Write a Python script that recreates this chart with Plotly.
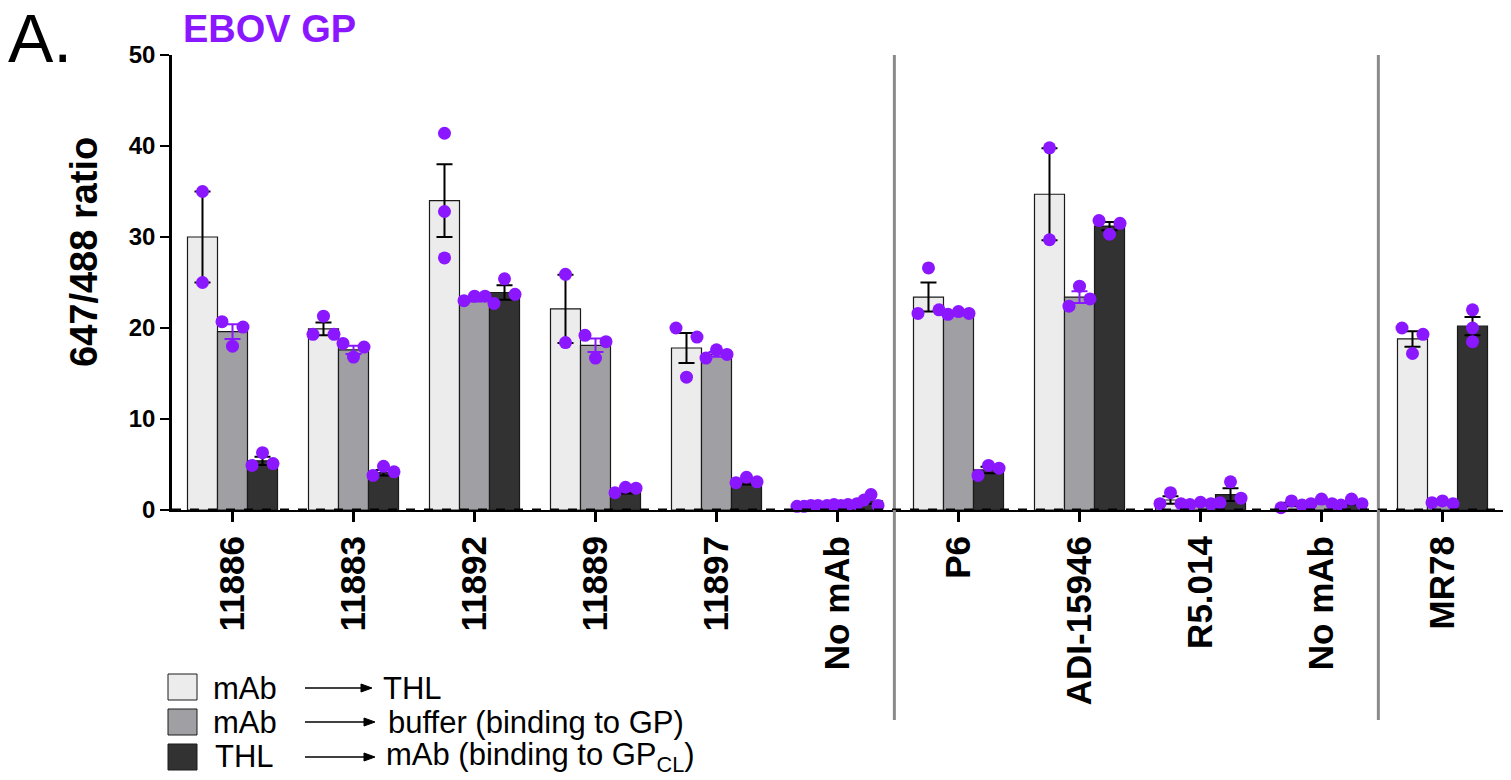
import plotly.graph_objects as go

# ---------------- data ----------------
categories = ["11886", "11883", "11892", "11889", "11897", "No mAb",
              "P6", "ADI-15946", "R5.014", "No mAb", "MR78"]

series_names = ["mAb → THL", "mAb → buffer (binding to GP)", "THL → mAb (binding to GPCL)"]

thl_mean = [30.0, 19.9, 34.0, 22.1, 17.8, 0.45, 23.4, 34.7, 1.1, 0.6, 18.8]
thl_sem = [5.0, 0.7, 4.0, 3.75, 1.65, 0.05, 1.6, 5.05, 0.4, 0.2, 0.85]
thl_points = [[35.0, 25.0], [19.3, 21.3, 19.3], [41.4, 32.8, 27.7], [25.9, 18.4],
              [20.0, 14.6, 19.0], [0.4, 0.4, 0.5, 0.5], [21.6, 26.6, 22.0],
              [39.8, 29.7], [0.7, 1.9, 0.7], [0.25, 1.0, 0.55], [20.0, 17.2, 19.3]]

buffer_mean = [19.6, 17.6, 23.1, 18.1, 17.1, 0.55, 21.6, 23.4, 0.7, 0.85, 0.85]
buffer_sem = [0.8, 0.45, 0.2, 0.75, 0.25, 0.03, 0.1, 0.65, 0.08, 0.15, 0.1]
buffer_points = [[20.7, 18.0, 20.1], [18.3, 16.8, 17.9], [23.0, 23.5, 23.5],
                 [19.2, 16.7, 18.5], [16.7, 17.6, 17.1], [0.5, 0.6, 0.5, 0.6],
                 [21.5, 21.8, 21.6], [22.4, 24.6, 23.2], [0.6, 0.85, 0.7],
                 [0.7, 1.2, 0.7], [0.8, 1.0, 0.7]]

cl_mean = [5.4, 4.1, 23.9, 2.0, 3.0, 1.0, 4.4, 31.2, 1.7, 0.8, 20.2]
cl_sem = [0.45, 0.3, 0.8, 0.2, 0.2, 0.3, 0.35, 0.45, 0.7, 0.2, 1.0]
cl_points = [[4.9, 6.3, 5.1], [3.8, 4.8, 4.2], [22.7, 25.4, 23.7], [1.9, 2.5, 2.4],
             [3.0, 3.6, 3.1], [0.7, 1.1, 1.7, 0.5], [3.8, 4.9, 4.6],
             [31.8, 30.3, 31.5], [0.8, 3.1, 1.3], [0.55, 1.2, 0.7], [22.0, 20.0, 18.5]]

y_ticks = [0, 10, 20, 30, 40, 50]

# ---------------- style / geometry ----------------
W, H = 1511, 780
L, R, T, B = 172, 8, 55, 270
PW = W - L - R
PH = H - T - B
PURPLE = "#8A17FF"
FONT = "Arial, 'Liberation Sans', Helvetica, sans-serif"
BAR_W = 0.248
PX_PER_X = PW / 11.0
PX_PER_Y = PH / 50.0
MARK = 13


def px2x(px):
    return (px - L) / PW


def px2y(py):
    return (H - B - py) / PH


def spread(vals):
    n = len(vals)
    collide = any(abs(a - b) * PX_PER_Y < MARK
                  for i, a in enumerate(vals) for b in vals[i + 1:])
    if n == 1 or not collide:
        return [0.0] * n
    span = 21.0
    step = span / (n - 1)
    return [(-span / 2 + k * step) / PX_PER_X for k in range(n)]


fig = go.Figure()

series = [
    (thl_mean, thl_sem, thl_points, "#ECECEC", -BAR_W, "black"),
    (buffer_mean, buffer_sem, buffer_points, "#A0A0A4", 0.0, PURPLE),
    (cl_mean, cl_sem, cl_points, "#323232", BAR_W, "black"),
]

for (means, sems, pts, color, off, ecol), name in zip(series, series_names):
    xs = [i + off for i in range(len(categories))]
    fig.add_trace(go.Bar(
        x=xs, y=means, width=BAR_W, name=name,
        marker=dict(color=color, line=dict(color="#1a1a1a", width=1.2)),
        error_y=dict(type="data", array=sems, visible=True, color=ecol,
                     thickness=2, width=8),
        showlegend=False,
    ))

for (means, sems, pts, color, off, ecol), name in zip(series, series_names):
    px, py = [], []
    for i, vals in enumerate(pts):
        offs = spread(vals)
        for v, o in zip(vals, offs):
            px.append(i + off + o)
            py.append(v)
    fig.add_trace(go.Scatter(
        x=px, y=py, mode="markers",
        marker=dict(color=PURPLE, size=MARK, line=dict(width=0)),
        showlegend=False, cliponaxis=False,
    ))

shapes = []
# separators
for xs in (5.47, 9.47):
    shapes.append(dict(type="line", xref="x", yref="paper", x0=xs, x1=xs,
                       y0=px2y(720), y1=1.0,
                       line=dict(color="#8a8a8a", width=3)))
# dashed baseline
shapes.append(dict(type="line", xref="paper", yref="y", x0=0, x1=1, y0=0, y1=0,
                   line=dict(color="black", width=3, dash="dash"), layer="above"))

# legend squares
leg_rows = [(674, 700, "#ECECEC"), (709, 735, "#A0A0A4"), (744, 770, "#323232")]
for y0, y1, c in leg_rows:
    shapes.append(dict(type="rect", xref="paper", yref="paper",
                       x0=px2x(168), x1=px2x(197), y0=px2y(y1), y1=px2y(y0),
                       fillcolor=c, line=dict(color="#1a1a1a", width=1)))

annotations = []
# y-axis title
annotations.append(dict(text="<b>647/488 ratio</b>", xref="paper", yref="paper",
                        x=px2x(84), y=px2y(252), textangle=-90, showarrow=False,
                        font=dict(family=FONT, size=38, color="black"),
                        xanchor="center", yanchor="middle"))
# panel letter
annotations.append(dict(text="A.", xref="paper", yref="paper",
                        x=px2x(6), y=px2y(38), showarrow=False,
                        font=dict(family=FONT, size=68, color="black"),
                        xanchor="left", yanchor="middle"))
# title
annotations.append(dict(text="<b>EBOV GP</b>", xref="paper", yref="paper",
                        x=px2x(181), y=px2y(29), showarrow=False,
                        font=dict(family=FONT, size=38, color=PURPLE),
                        xanchor="left", yanchor="middle"))

leg_text = [
    (688, "mAb", 211, "THL", 381, 372),
    (722, "mAb", 211, "buffer (binding to GP)", 386, 375),
    (757, "THL", 213, "mAb (binding to GP<sub>CL</sub>)", 384, 375),
]
for yc, t1, x1, t2, x2, tip in leg_text:
    annotations.append(dict(text=t1, xref="paper", yref="paper", x=px2x(x1), y=px2y(yc),
                            showarrow=False, xanchor="left", yanchor="middle",
                            font=dict(family=FONT, size=31, color="black")))
    annotations.append(dict(text=t2, xref="paper", yref="paper", x=px2x(x2), y=px2y(yc),
                            showarrow=False, xanchor="left", yanchor="middle",
                            font=dict(family=FONT, size=31, color="black")))
    # arrow: shaft + head
    shapes.append(dict(type="line", xref="paper", yref="paper",
                       x0=px2x(305), x1=px2x(tip - 8), y0=px2y(yc), y1=px2y(yc),
                       line=dict(color="black", width=1.6)))
    hx, hy0, hy1, hyc = px2x(tip), px2y(yc - 4), px2y(yc + 4), px2y(yc)
    bx = px2x(tip - 11)
    shapes.append(dict(type="path", xref="paper", yref="paper",
                       path=f"M {bx} {hy0} L {hx} {hyc} L {bx} {hy1} Z",
                       fillcolor="black", line=dict(color="black", width=1)))

fig.update_layout(
    width=W, height=H,
    margin=dict(l=L, r=R, t=T, b=B, pad=0),
    plot_bgcolor="white", paper_bgcolor="white",
    barmode="overlay",
    font=dict(family=FONT, color="black"),
    shapes=shapes, annotations=annotations,
    xaxis=dict(range=[-0.5, 10.5], tickmode="array",
               tickvals=list(range(len(categories))), ticktext=categories,
               tickangle=-90, ticks="outside", ticklen=10, tickwidth=3, tickcolor="black",
               tickfont=dict(family=FONT, size=35, color="black", weight="bold"),
               showline=True, linecolor="black", linewidth=2, showgrid=False,
               zeroline=False, fixedrange=True),
    yaxis=dict(range=[0, 50], tickmode="array", tickvals=y_ticks,
               ticks="outside", ticklen=9, tickwidth=2, tickcolor="black",
               tickfont=dict(family=FONT, size=24, color="black", weight="bold"),
               showline=True, linecolor="black", linewidth=2.5, showgrid=False,
               zeroline=False, fixedrange=True),
)

fig.write_html("out.html", config={"displayModeBar": False}, post_script=(
    "document.body.style.margin='0';document.body.style.overflow='hidden';"))
